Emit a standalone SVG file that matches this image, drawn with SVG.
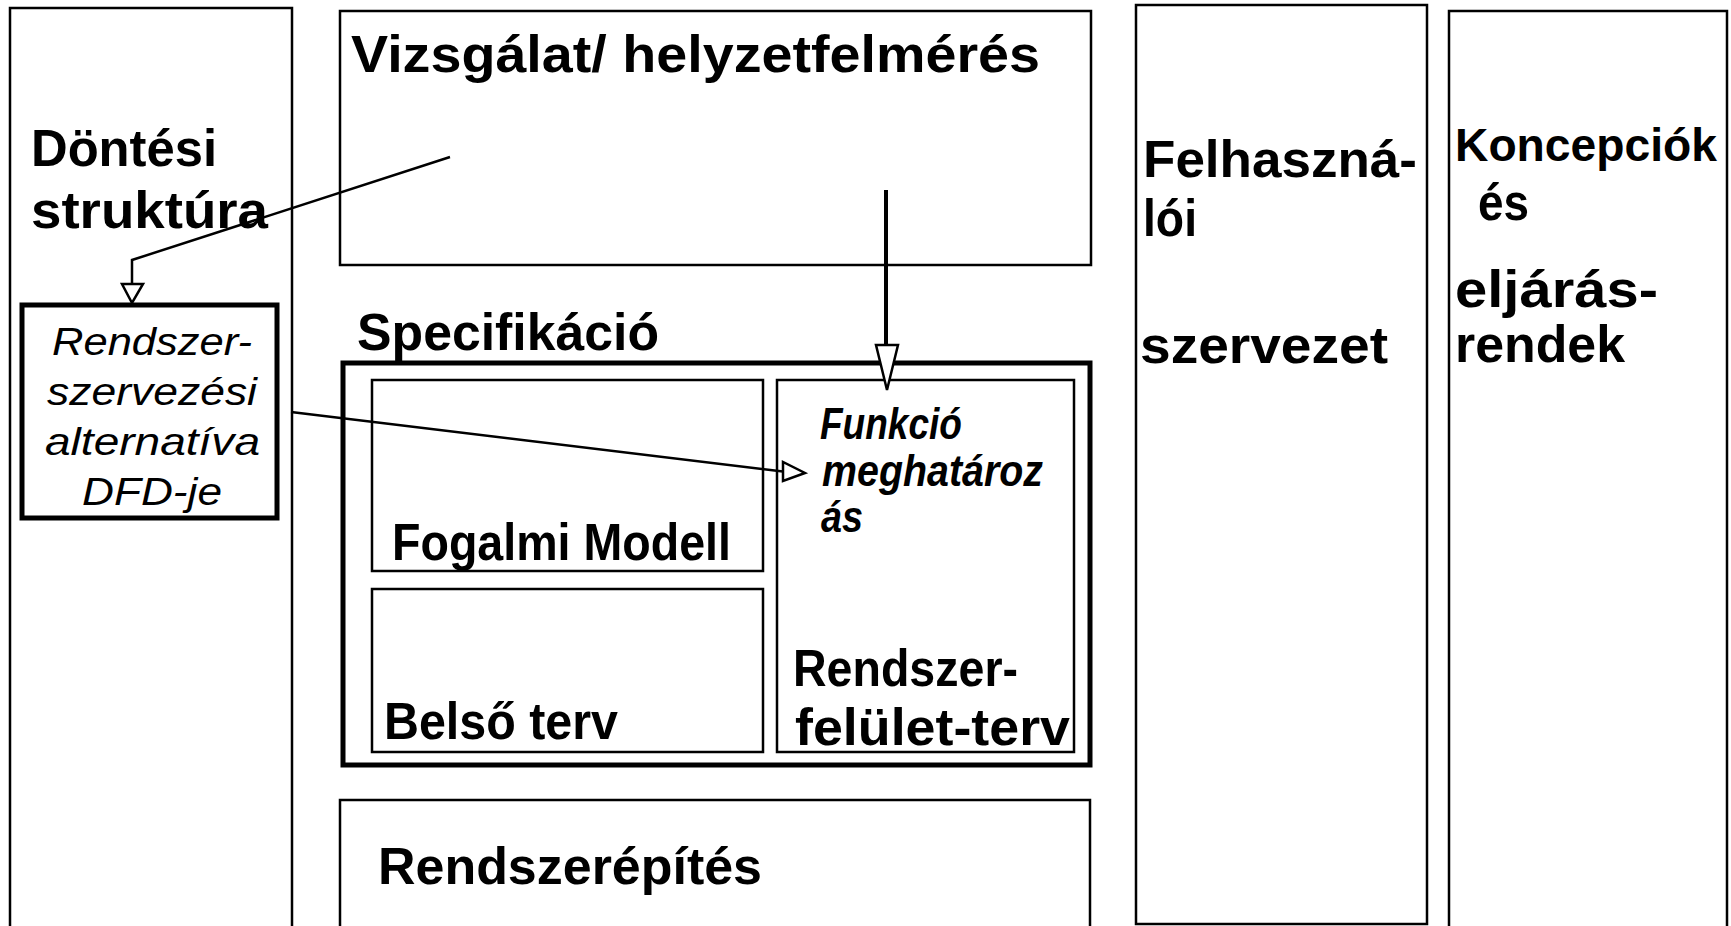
<svg xmlns="http://www.w3.org/2000/svg" width="1731" height="926" viewBox="0 0 1731 926">
<style>
.box{fill:none;stroke:#000;stroke-width:2.5}
.thick{fill:none;stroke:#000;stroke-width:5}
.t{font-family:"Liberation Sans",Arial,sans-serif;font-weight:bold;font-size:52px;fill:#000}
.it{font-family:"Liberation Sans",Arial,sans-serif;font-style:italic;font-size:38px;fill:#000}
.bi{font-family:"Liberation Sans",Arial,sans-serif;font-style:italic;font-weight:bold;font-size:44px;fill:#000}
.conn{fill:none;stroke:#000;stroke-width:2.5}
.conn4{fill:none;stroke:#000;stroke-width:4}
.head{fill:#fff;stroke:#000;stroke-width:2.5;stroke-linejoin:miter}
</style>
<rect x="0" y="0" width="1731" height="926" fill="#fff"/>
<g id="dontesi">
<rect class="box" x="10" y="8" width="282" height="940"/>
<text class="t" x="31" y="166" textLength="186" lengthAdjust="spacingAndGlyphs">Döntési</text>
<text class="t" x="31" y="228" textLength="237" lengthAdjust="spacingAndGlyphs">struktúra</text>
</g>
<g id="dfd">
<rect class="thick" x="22" y="305" width="255" height="213" fill="#fff"/>
<text class="it" x="52" y="355" textLength="200" lengthAdjust="spacingAndGlyphs">Rendszer-</text>
<text class="it" x="47" y="405" textLength="210" lengthAdjust="spacingAndGlyphs">szervezési</text>
<text class="it" x="45" y="455" textLength="215" lengthAdjust="spacingAndGlyphs">alternatíva</text>
<text class="it" x="82" y="505" textLength="140" lengthAdjust="spacingAndGlyphs">DFD-je</text>
</g>
<g id="vizsgalat">
<rect class="box" x="340" y="11" width="751" height="254"/>
<text class="t" x="351" y="72" textLength="689" lengthAdjust="spacingAndGlyphs">Vizsgálat/ helyzetfelmérés</text>
</g>
<g id="specifikacio">
<text class="t" x="357" y="350" textLength="302" lengthAdjust="spacingAndGlyphs">Specifikáció</text>
<rect class="thick" x="343" y="363" width="747" height="402"/>
</g>
<g id="fogalmi">
<rect class="box" x="372" y="380" width="391" height="191"/>
<text class="t" x="392" y="560" textLength="339" lengthAdjust="spacingAndGlyphs">Fogalmi Modell</text>
</g>
<g id="belso">
<rect class="box" x="372" y="589" width="391" height="163"/>
<text class="t" x="384" y="739" textLength="234" lengthAdjust="spacingAndGlyphs">Belső terv</text>
</g>
<g id="felulet">
<rect class="box" x="777" y="380" width="297" height="372"/>
<text class="bi" x="820" y="439" textLength="142" lengthAdjust="spacingAndGlyphs">Funkció</text>
<text class="bi" x="822" y="486" textLength="221" lengthAdjust="spacingAndGlyphs">meghatároz</text>
<text class="bi" x="821" y="532" textLength="42" lengthAdjust="spacingAndGlyphs">ás</text>
<text class="t" x="793" y="686" textLength="225" lengthAdjust="spacingAndGlyphs">Rendszer-</text>
<text class="t" x="795" y="745" textLength="275" lengthAdjust="spacingAndGlyphs">felület-terv</text>
</g>
<g id="rendszerepites">
<rect class="box" x="340" y="800" width="750" height="200"/>
<text class="t" x="378" y="884" textLength="384" lengthAdjust="spacingAndGlyphs">Rendszerépítés</text>
</g>
<g id="felhasznaloi">
<rect class="box" x="1136" y="5" width="291" height="919"/>
<text class="t" x="1143" y="177" textLength="274" lengthAdjust="spacingAndGlyphs">Felhaszná-</text>
<text class="t" x="1143" y="236" textLength="54" lengthAdjust="spacingAndGlyphs">lói</text>
<text class="t" x="1140" y="363" textLength="248" lengthAdjust="spacingAndGlyphs">szervezet</text>
</g>
<g id="koncepciok">
<rect class="box" x="1449" y="11" width="278" height="950"/>
<text class="t" x="1455" y="161" font-size="47" textLength="262" lengthAdjust="spacingAndGlyphs" style="font-size:47px">Koncepciók</text>
<text class="t" x="1478" y="220" textLength="51" lengthAdjust="spacingAndGlyphs">és</text>
<text class="t" x="1455" y="307" textLength="203" lengthAdjust="spacingAndGlyphs">eljárás-</text>
<text class="t" x="1455" y="362" textLength="170" lengthAdjust="spacingAndGlyphs">rendek</text>
</g>
<g id="connectors">
<polyline class="conn" points="450,157 132,260 132,284"/>
<polygon class="head" points="122,284 143,284 132,303"/>
<line class="conn4" x1="886" y1="190" x2="886" y2="357"/>
<polygon class="head" points="876,345 898,345 887,390"/>
<line class="conn" x1="291" y1="412" x2="783" y2="471.5"/>
<polygon class="head" points="783,462 783,481 805,473"/>
</g>
</svg>
